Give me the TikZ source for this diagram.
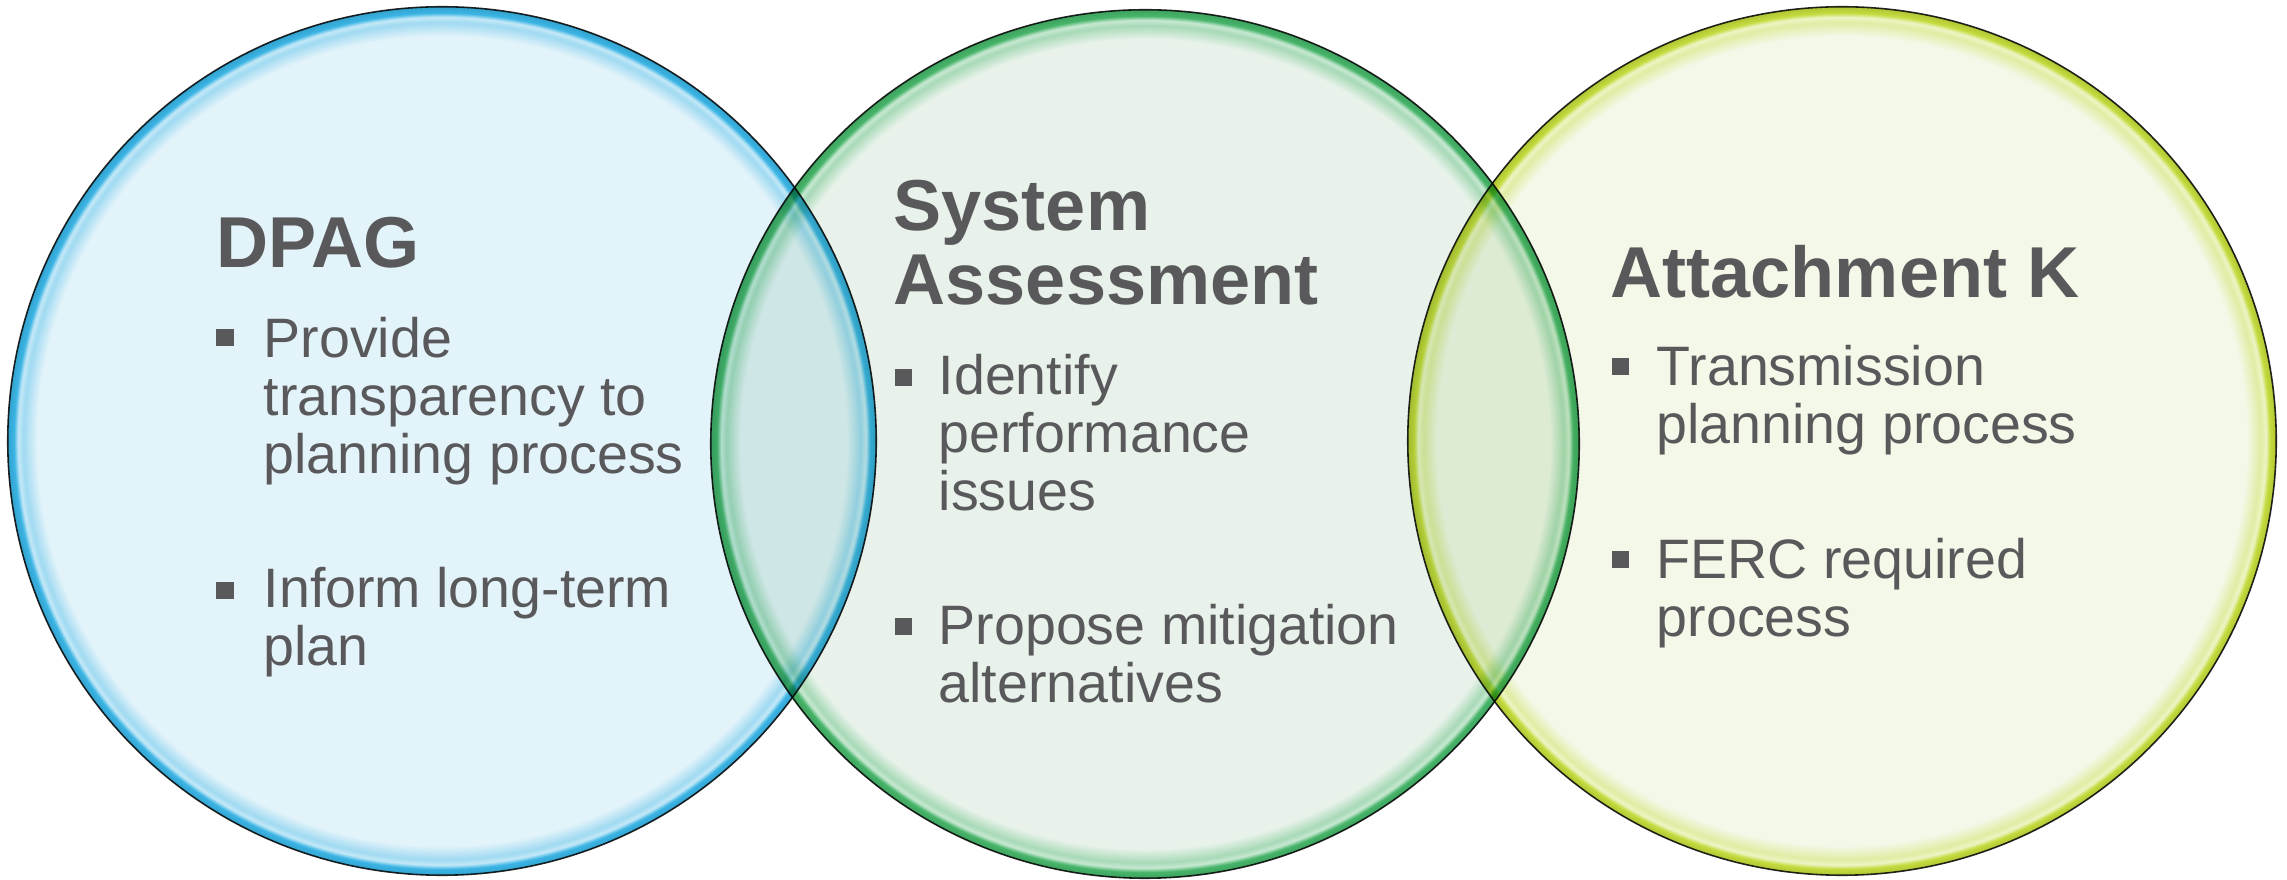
\documentclass[tikz,border=0pt]{standalone}
\usepackage{fontspec}
\setmainfont{Liberation Sans}
\usepackage{tikz}
\usetikzlibrary{shapes}
\definecolor{text_gray}{RGB}{89,89,91}
\definecolor{fill_blue}{RGB}{227,243,250}
\definecolor{edge_blue}{RGB}{58,180,228}
\definecolor{fill_green}{RGB}{232,242,234}
\definecolor{edge_green}{RGB}{70,180,105}
\definecolor{fill_yellow}{RGB}{243,248,232}
\definecolor{edge_yellow}{RGB}{196,218,60}

% soft bevelled rim, edge of the circle sits at 25bp
\newcommand{\makeglow}[3]{%
  \pgfdeclareradialshading{#1}{\pgfpoint{0bp}{0bp}}{%
    color(0bp)=(#2); color(23.3bp)=(#2);
    color(24.1bp)=(#3!40!#2); color(24.4bp)=(#3!30!white);
    color(24.65bp)=(#3); color(25bp)=(#3!90!black); color(50bp)=(#3!90!black)}}
\makeglow{glow_blue}{fill_blue}{edge_blue}
\makeglow{glow_green}{fill_green}{edge_green}
\makeglow{glow_yellow}{fill_yellow}{edge_yellow}

\begin{document}
\begin{tikzpicture}[x=0.01cm,y=-0.01cm]
    \tikzstyle{venn}=[circle, minimum size=8.68cm, inner sep=0, shade, draw=black!85, line width=0.45pt]
    \tikzstyle{title}=[anchor=base west, inner sep=0, align=left, text=text_gray, font=\fontsize{20.5}{21.3}\selectfont\bfseries]
    \tikzstyle{item}=[anchor=base west, inner sep=0, align=left, text=text_gray, font=\fontsize{15.8}{16.5}\selectfont]
    \tikzstyle{bullet}=[rectangle, fill=text_gray, minimum size=0.17cm, inner sep=0]

    \useasboundingbox (0,0) rectangle (2287,880);

    \begin{scope}[blend mode=multiply]
      \node[venn, shading=glow_blue]   (dpag) at (442,441)  {};
      \node[venn, shading=glow_green]  (sysa) at (1145,444) {};
      \node[venn, shading=glow_yellow] (attk) at (1842,441) {};
    \end{scope}

    % DPAG (text nodes sit on their last line)
    \node[title] (dpag_t) at (216,268) {DPAG};
    \node[bullet] (dpag_b1) at (225,338) {};
    \node[item]   (dpag_i1) at (263,474) {Provide\\transparency to\\planning process};
    \node[bullet] (dpag_b2) at (225,591) {};
    \node[item]   (dpag_i2) at (263,666) {Inform long-term\\plan};

    % System Assessment
    \node[title] (sysa_t) at (893,305) {System\\Assessment};
    \node[bullet] (sysa_b1) at (903,378) {};
    \node[item]   (sysa_i1) at (938,511) {Identify\\performance\\issues};
    \node[bullet] (sysa_b2) at (903,627) {};
    \node[item]   (sysa_i2) at (938,703) {Propose mitigation\\alternatives};

    % Attachment K
    \node[title] (attk_t) at (1610,298) {Attachment K};
    \node[bullet] (attk_b1) at (1620,367) {};
    \node[item]   (attk_i1) at (1656,444) {Transmission\\planning process};
    \node[bullet] (attk_b2) at (1620,560) {};
    \node[item]   (attk_i2) at (1656,637) {FERC required\\process};
\end{tikzpicture}
\end{document}
